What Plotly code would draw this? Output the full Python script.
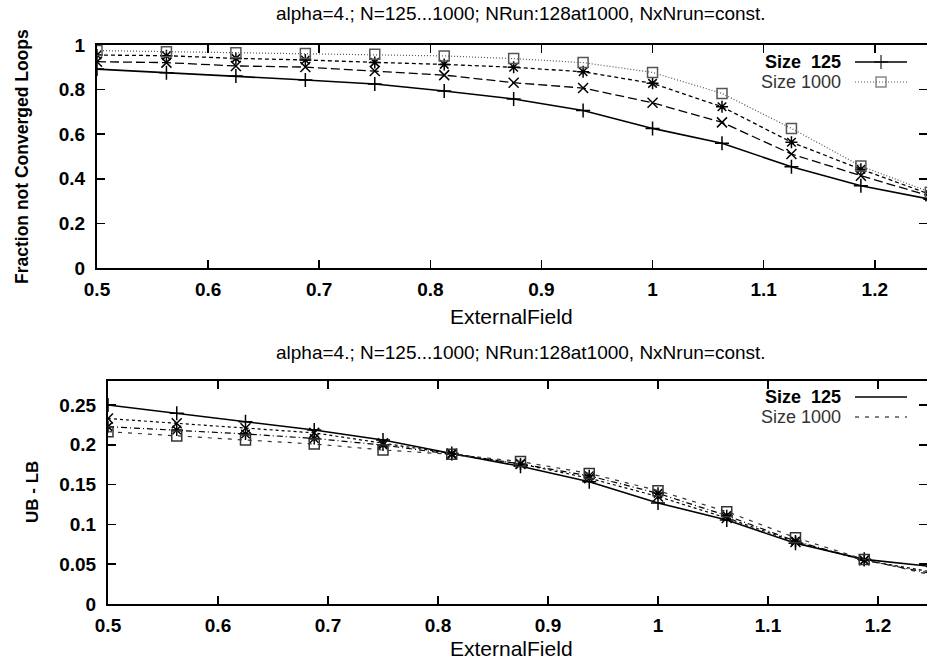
import plotly.graph_objects as go

# ---------------- data ----------------
field = [0.5, 0.5625, 0.625, 0.6875, 0.75, 0.8125, 0.875, 0.9375, 1.0, 1.0625, 1.125, 1.1875, 1.25]

frac_125 = [0.892, 0.876, 0.861, 0.843, 0.825, 0.794, 0.758, 0.706, 0.626, 0.559, 0.454, 0.369, 0.308]
frac_s2 = [0.925, 0.921, 0.906, 0.901, 0.883, 0.865, 0.831, 0.807, 0.741, 0.653, 0.511, 0.414, 0.322]
frac_s3 = [0.955, 0.952, 0.940, 0.933, 0.922, 0.913, 0.900, 0.880, 0.828, 0.723, 0.564, 0.443, 0.330]
frac_1000 = [0.975, 0.970, 0.965, 0.962, 0.958, 0.951, 0.939, 0.921, 0.877, 0.783, 0.626, 0.457, 0.340]

gap_125 = [0.250, 0.2395, 0.229, 0.2186, 0.206, 0.189, 0.173, 0.1537, 0.127, 0.1055, 0.0762, 0.0561, 0.047]
gap_s2 = [0.233, 0.227, 0.2207, 0.215, 0.202, 0.189, 0.176, 0.158, 0.135, 0.108, 0.078, 0.055, 0.040]
gap_s3 = [0.2228, 0.2186, 0.2136, 0.208, 0.1997, 0.188, 0.176, 0.161, 0.139, 0.111, 0.079, 0.055, 0.038]
gap_1000 = [0.2165, 0.211, 0.206, 0.201, 0.1935, 0.188, 0.179, 0.164, 0.1424, 0.116, 0.0833, 0.056, 0.036]

x_ticks = [0.5, 0.6, 0.7, 0.8, 0.9, 1.0, 1.1, 1.2]
top_y_ticks = [0, 0.2, 0.4, 0.6, 0.8, 1.0]
bot_y_ticks = [0, 0.05, 0.1, 0.15, 0.2, 0.25]

title_text = "alpha=4.; N=125...1000; NRun:128at1000, NxNrun=const."
x_title = "ExternalField"
top_y_title = "Fraction not Converged Loops"
bot_y_title = "UB - LB"
legend_labels = ["Size  125", "Size 1000"]

# ---------------- layout geometry (pixels) ----------------
W, H = 927, 666
FONT = "Liberation Sans, Arial, sans-serif"

def px_x(p):
    return p / W

def px_y(p):
    return 1 - p / H

top_left, top_top, top_bot = 97, 45, 268
bot_left, bot_top, bot_bot = 108, 381, 604
top_xmax = 0.5 + (W - top_left) / 1111.1
bot_xmax = 0.5 + (W - bot_left) / 1100.0
bot_ymax = 0.25 * (bot_bot - bot_top) / (bot_bot - 405)

fig = go.Figure()

top_styles = [
    (frac_125, "cross-thin", "solid", "#000", 1.6),
    (frac_s2, "x-thin", "9px,4px", "#000", 1.3),
    (frac_s3, "asterisk", "4px,3px", "#000", 1.3),
    (frac_1000, "square-open", "1px,2px", "#555", 1.2),
]
for vals, sym, dash, col, lw in top_styles:
    fig.add_trace(go.Scatter(
        x=field, y=vals, mode="lines+markers", xaxis="x", yaxis="y",
        line=dict(color=col, width=lw, dash=dash),
        marker=dict(symbol=sym, size=10, color=col, line=dict(color=col, width=1.5)),
        showlegend=False, hoverinfo="skip"))

bot_styles = [
    (gap_125, "cross-thin", "solid", "#000", 1.6),
    (gap_s2, "x-thin", "3px,3px", "#000", 1.2),
    (gap_s3, "asterisk", "6px,3px,1px,3px", "#000", 1.2),
    (gap_1000, "square-open", "4px,6px", "#333", 1.2),
]
for vals, sym, dash, col, lw in bot_styles:
    fig.add_trace(go.Scatter(
        x=field, y=vals, mode="lines+markers", xaxis="x2", yaxis="y2",
        line=dict(color=col, width=lw, dash=dash),
        marker=dict(symbol=sym, size=10, color=col, line=dict(color=col, width=1.5)),
        showlegend=False, hoverinfo="skip"))

# legend samples on a full-figure pixel axis
leg_text_right = 843
leg_line = (855, 907)
leg_rows_top = [62, 82]
leg_rows_bot = [397, 417]
leg_top_style = [("cross-thin", "solid", "#000", 1.6), ("square-open", "1px,2px", "#555", 1.2)]
leg_bot_style = [("solid", "#000", 1.6), ("4px,6px", "#000", 1.2)]

mid = (leg_line[0] + leg_line[1]) / 2
for (sym, dash, col, lw), yy in zip(leg_top_style, leg_rows_top):
    fig.add_trace(go.Scatter(
        x=[leg_line[0], mid, leg_line[1]], y=[yy, yy, yy], mode="lines+markers",
        xaxis="x3", yaxis="y3", line=dict(color=col, width=lw, dash=dash),
        marker=dict(symbol=sym, size=[0, 10, 0], color=col, line=dict(color=col, width=1.5)),
        showlegend=False, hoverinfo="skip"))
for (dash, col, lw), yy in zip(leg_bot_style, leg_rows_bot):
    fig.add_trace(go.Scatter(
        x=[leg_line[0], leg_line[1]], y=[yy, yy], mode="lines",
        xaxis="x3", yaxis="y3", line=dict(color=col, width=lw, dash=dash),
        showlegend=False, hoverinfo="skip"))

tickfont = dict(family=FONT, size=19, color="#000", weight="bold")
axis_common = dict(showgrid=False, zeroline=False, showline=True, linecolor="#000",
                   linewidth=2, mirror="ticks", ticks="inside", ticklen=8,
                   tickwidth=1.5, tickcolor="#000", tickfont=tickfont, automargin=False)

annotations = []

def add_text(text, x, y, size, weight="normal", color="#000", angle=0, xanchor="center"):
    annotations.append(dict(text=text, x=px_x(x), y=px_y(y), xref="paper", yref="paper",
                            xanchor=xanchor, yanchor="middle", showarrow=False, textangle=angle,
                            font=dict(family=FONT, size=size, color=color, weight=weight)))

for yy in (14, 352):
    add_text(title_text, 521, yy, 19)
for yy in (316, 648):
    add_text(x_title, 512, yy, 21)
add_text(top_y_title, 22, 157, 17.5, weight="bold", angle=-90)
add_text(bot_y_title, 32, 492, 17, weight="bold", angle=-90)
for rows in (leg_rows_top, leg_rows_bot):
    for i, (lab, yy) in enumerate(zip(legend_labels, rows)):
        add_text(lab, leg_text_right, yy, 18,
                 weight="bold" if i == 0 else "normal",
                 color="#000" if i == 0 else "#333", xanchor="right")

fig.update_layout(
    template="none",
    width=W, height=H, margin=dict(l=0, r=0, t=0, b=0, autoexpand=False),
    paper_bgcolor="white", plot_bgcolor="rgba(0,0,0,0)",
    xaxis=dict(domain=[px_x(top_left), 1.0], range=[0.5, top_xmax], tickvals=x_ticks,
               anchor="y", ticklabelstandoff=3, **axis_common),
    yaxis=dict(domain=[px_y(top_bot), px_y(top_top)], range=[0, 1.0], tickvals=top_y_ticks,
               anchor="x", ticklabelstandoff=6, **axis_common),
    xaxis2=dict(domain=[px_x(bot_left), 1.0], range=[0.5, bot_xmax], tickvals=x_ticks,
                anchor="y2", ticklabelstandoff=3, **axis_common),
    yaxis2=dict(domain=[px_y(bot_bot), px_y(bot_top)], range=[0, bot_ymax], tickvals=bot_y_ticks,
                anchor="x2", ticklabelstandoff=6, **axis_common),
    xaxis3=dict(domain=[0, 1], range=[0, W], visible=False, anchor="y3", automargin=False),
    yaxis3=dict(domain=[0, 1], range=[H, 0], visible=False, anchor="x3", automargin=False),
    annotations=annotations,
)

fig.write_html("out.html",
               config={"displayModeBar": False, "staticPlot": True},
               post_script="document.body.style.margin='0';document.body.style.overflow='hidden';")
